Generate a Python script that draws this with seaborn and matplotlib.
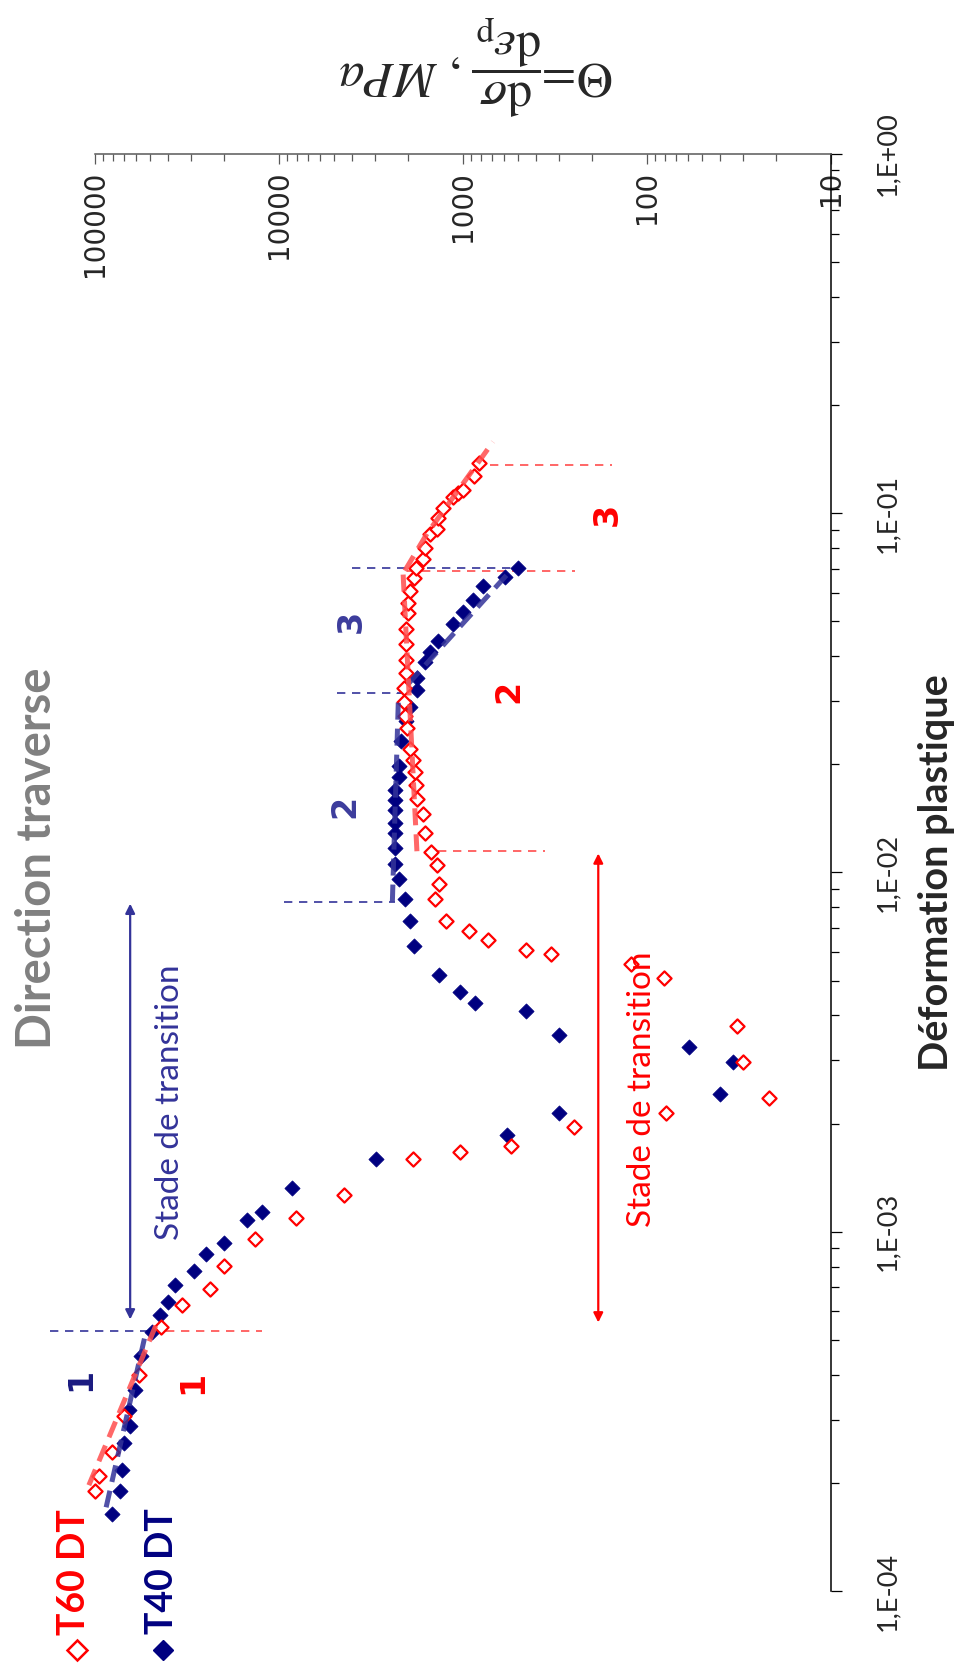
import numpy as np
import matplotlib
matplotlib.use('Agg')
import matplotlib.pyplot as plt
from matplotlib.lines import Line2D
from matplotlib.ticker import LogLocator, NullFormatter
import seaborn as sns

# ---- données (déformation plastique, Theta en MPa) ----
t40_eps = [1.640e-4, 1.901e-4, 2.176e-4, 2.588e-4, 2.886e-4, 3.198e-4, 3.637e-4, 4.524e-4,
           5.245e-4, 5.85e-4, 6.36e-4, 7.09e-4, 7.76e-4, 8.65e-4, 9.29e-4, 1.076e-3,
           1.132e-3, 1.321e-3, 1.592e-3, 1.858e-3, 2.140e-3, 2.418e-3, 2.971e-3, 3.270e-3,
           3.532e-3, 4.121e-3, 4.335e-3, 4.655e-3, 5.193e-3, 6.25e-3, 7.34e-3, 8.45e-3,
           9.61e-3, 0.01059, 0.01167, 0.01285, 0.01371, 0.01490, 0.01589, 0.01695,
           0.01841, 0.01977, 0.02317, 0.02636, 0.02884, 0.03220, 0.03475, 0.03855,
           0.04111, 0.04405, 0.04920, 0.05309, 0.05741, 0.06281, 0.06653, 0.07047]
t40_theta = [80700, 73100, 71300, 69500, 64400, 65300, 60500, 56100,
             48900, 44200, 40000, 36600, 28900, 24800, 20000, 15000,
             12400, 8550, 2980, 575, 300, 40.3, 34.2, 59.4,
             300, 454, 861, 1038, 1352, 1849, 1945, 2070,
             2233, 2350, 2350, 2350, 2350, 2350, 2350, 2350,
             2233, 2233, 2178, 2045, 1945, 1781, 1781, 1611,
             1513, 1368, 1133, 1000, 883, 778, 590, 501]

t60_eps = [1.901e-4, 2.094e-4, 2.442e-4, 3.076e-4, 4.003e-4, 5.417e-4, 6.24e-4, 6.91e-4,
           8.01e-4, 9.53e-4, 1.091e-3, 1.264e-3, 1.592e-3, 1.667e-3, 1.732e-3, 1.957e-3,
           2.140e-3, 2.357e-3, 2.971e-3, 3.742e-3, 5.09e-3, 5.57e-3, 5.94e-3, 6.09e-3,
           6.50e-3, 6.89e-3, 7.34e-3, 8.45e-3, 9.27e-3, 0.01046, 0.01138, 0.01285,
           0.01452, 0.01599, 0.01749, 0.01901, 0.02051, 0.02203, 0.02523, 0.02723,
           0.02978, 0.03258, 0.03590, 0.03900, 0.04325, 0.04767, 0.05279, 0.05623,
           0.06081, 0.06607, 0.07047, 0.07464, 0.08017, 0.08770, 0.09061, 0.09707,
           0.1036, 0.1112, 0.1140, 0.1163, 0.1272, 0.1384]
t60_theta = [100000, 95100, 80700, 69500, 57500, 43700, 33600, 23600,
             20000, 13430, 8130, 4450, 1871, 1038, 547, 248,
             79.3, 21.8, 30.2, 32.5, 81.3, 121.5, 331, 454,
             731, 927, 1238, 1421, 1352, 1386, 1494, 1611,
             1652, 1781, 1803, 1826, 1871, 1945, 2019, 2070,
             2097, 2097, 2045, 2045, 2045, 2045, 1995, 1995,
             1945, 1849, 1803, 1652, 1611, 1513, 1386, 1368,
             1285, 1133, 1065, 1000, 871, 818]

# lois d'ajustement par stade (pointillés épais)
fit_t40 = [([1.71e-4, 5.3e-4], [87000, 52700]),
           ([8.3e-3, 0.0316], [2420, 2240]),
           ([0.0334, 0.0700], [1995, 540])]
fit_t60 = [([1.97e-4, 5.5e-4], [108000, 46600]),
           ([0.01146, 0.0692], [1780, 2120]),
           ([0.0692, 0.0877, 0.158], [2070, 1570, 687])]

# limites des stades : (déformation, Theta début, Theta fin)
lim_t40 = [(5.31e-4, 175000, 49500), (8.3e-3, 9450, 2348),
           (0.03155, 4860, 2150), (0.0702, 4030, 489)]
lim_t60 = [(5.31e-4, 49500, 12300), (0.01146, 1369, 357),
           (0.0692, 2019, 245), (0.1365, 713, 154)]

theta_ticks = [1e5, 1e4, 1e3, 1e2, 1e1]
theta_labels = ['100000', '10000', '1000', '100', '10']
eps_ticks = [1e-4, 1e-3, 1e-2, 1e-1, 1e0]
eps_labels = ['1,E-04', '1,E-03', '1,E-02', '1,E-01', '1,E+00']

NAVY = '#000080'
NAVY2 = '#333399'
RED = '#ff0000'
RED2 = '#ff4d4d'

sns.set_style('white')
plt.rcParams['font.family'] = ['Lato', 'DejaVu Sans']
plt.rcParams['mathtext.fontset'] = 'stix'

fig = plt.figure(figsize=(9.72, 16.69), dpi=100)
ax = fig.add_axes([95 / 972, 1 - 1591 / 1669, 736 / 972, 1437 / 1669])
ax.set_xscale('log')
ax.set_yscale('log')

# nuages de points
sns.scatterplot(x=t40_theta, y=t40_eps, marker='D', s=60, color=NAVY, edgecolor=NAVY,
                linewidth=0.5, ax=ax, clip_on=False, zorder=3)
sns.scatterplot(x=t60_theta, y=t60_eps, marker='D', s=52, color='white', edgecolor=RED,
                linewidth=1.6, ax=ax, clip_on=False, zorder=3)

# ajustements
for e, t in fit_t40:
    ax.plot(t, e, color=NAVY2, lw=3.6, alpha=0.85, dashes=(3.4, 1.8),
            dash_capstyle='butt', clip_on=False, zorder=4)
for e, t in fit_t60:
    ax.plot(t, e, color=RED2, lw=3.6, alpha=0.85, dashes=(3.4, 1.8),
            dash_capstyle='butt', clip_on=False, zorder=4)

# limites des stades
for e, a, b in lim_t40:
    ax.plot([a, b], [e, e], color=NAVY2, lw=1.2, ls=(0, (5, 4)), clip_on=False, zorder=2)
for e, a, b in lim_t60:
    ax.plot([a, b], [e, e], color=RED2, lw=1.2, ls=(0, (5, 4)), clip_on=False, zorder=2)

# numéros de stade
stage_kw = dict(rotation=90, ha='center', va='center', fontsize=24, fontweight='bold',
                family='DejaVu Sans')
ax.text(119000, 3.88e-4, '1', color='#1a1a80', **stage_kw)
ax.text(29600, 3.80e-4, '1', color=RED, **stage_kw)
ax.text(4400, 0.01528, '2', color='#3c3c9c', **stage_kw)
ax.text(561, 0.0320, '2', color=RED, **stage_kw)
ax.text(4030, 0.0501, '3', color='#3c3c9c', **stage_kw)
ax.text(164, 0.0991, '3', color=RED, **stage_kw)

# stades de transition
ax.annotate('', xy=(64400, 8.19e-3), xytext=(64400, 5.70e-4),
            arrowprops=dict(arrowstyle='<|-|>', color=NAVY2, lw=1.6, mutation_scale=14,
                            shrinkA=0, shrinkB=0))
ax.annotate('', xy=(184, 0.0113), xytext=(184, 5.59e-4),
            arrowprops=dict(arrowstyle='<|-|>', color=RED, lw=1.6, mutation_scale=14,
                            shrinkA=0, shrinkB=0))
ax.text(39000, 2.30e-3, 'Stade de transition', rotation=90, ha='center', va='center',
        fontsize=24, color=NAVY2)
ax.text(105.8, 2.50e-3, 'Stade de transition', rotation=90, ha='center', va='center',
        fontsize=24, color=RED)

# axes
ax.set_xlim(1e5, 10)
ax.set_ylim(1e-4, 1)
ax.set_xticks(theta_ticks, labels=theta_labels)
ax.xaxis.set_minor_locator(LogLocator(base=10, subs=np.arange(2, 10) * 1.0, numticks=20))
ax.xaxis.set_minor_formatter(NullFormatter())
ax.set_yticks(eps_ticks, labels=eps_labels)
ax.yaxis.set_minor_locator(LogLocator(base=10, subs=np.arange(2, 10) * 1.0, numticks=20))
ax.yaxis.set_minor_formatter(NullFormatter())
ax.xaxis.tick_top()
ax.yaxis.tick_right()
ax.tick_params(axis='x', which='both', direction='in', color='#595959', width=0.9,
               labelrotation=90, pad=-12, labelsize=20)
ax.tick_params(axis='x', which='major', length=7.5)
ax.tick_params(axis='x', which='minor', length=5)
ax.tick_params(axis='y', which='both', direction='out', color='black', width=0.9,
               labelrotation=90, pad=24, labelsize=19.5)
ax.tick_params(axis='y', which='major', length=8)
ax.tick_params(axis='y', which='minor', length=5.5)
for tk in ax.xaxis.get_major_ticks():
    tk.label2.set_va('top')
    tk.label2.set_family('DejaVu Sans')
for tk in ax.yaxis.get_major_ticks():
    tk.label2.set_va('center')

for s in ['left', 'bottom']:
    ax.spines[s].set_visible(False)
ax.spines['top'].set_color('#595959')
ax.spines['top'].set_linewidth(1.1)
ax.spines['right'].set_color('black')
ax.spines['right'].set_linewidth(1.1)
ax.grid(False)

ax.yaxis.set_label_position('right')
ax.set_ylabel('Déformation plastique', fontsize=28.5, fontweight='bold', rotation=90,
              va='center', ha='center')
ax.yaxis.set_label_coords(1.144, 0.5)
ax.xaxis.set_label_position('top')
ax.set_xlabel(r'$\Theta\!=\!\dfrac{\mathrm{d}\sigma}{\mathrm{d}\varepsilon_{\mathrm{p}}}\,,\,MPa$',
              fontsize=36, rotation=180, va='center', ha='center')
ax.xaxis.set_label_coords(0.518, 1.062)

# titre
fig.text(37 / 972, 1 - 858 / 1669, 'Direction traverse', rotation=90, ha='center',
         va='center', fontsize=34, fontweight='bold', color='#808080')

# légende
fig.add_artist(Line2D([77 / 972], [1 - 1650 / 1669], marker='D', ms=10, mfc='white',
                      mec=RED, mew=1.8, transform=fig.transFigure))
fig.add_artist(Line2D([163 / 972], [1 - 1650 / 1669], marker='D', ms=10, mfc=NAVY,
                      mec=NAVY, transform=fig.transFigure))
fig.text(74 / 972, 1 - 1572 / 1669, 'T60 DT', rotation=90, ha='center', va='center',
         fontsize=27, fontweight='bold', color=RED)
fig.text(162 / 972, 1 - 1571 / 1669, 'T40 DT', rotation=90, ha='center', va='center',
         fontsize=27, fontweight='bold', color=NAVY)

fig.savefig('out.png', dpi=100, facecolor='white')
